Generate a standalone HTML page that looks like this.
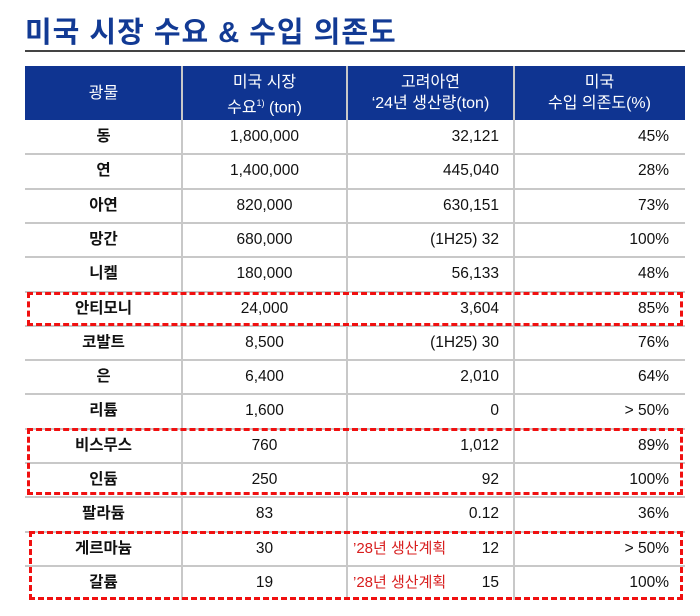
<!DOCTYPE html>
<html><head><meta charset="utf-8"><style>
body{margin:0;width:700px;height:616px;background:#fff;position:relative;overflow:hidden;font-family:"Liberation Sans","Noto Sans CJK KR",sans-serif;}
.a{position:absolute;}
.t{font-size:15.5px;color:#111;line-height:20px;white-space:nowrap;}
.h{color:#fff;font-size:16px;line-height:21px;text-align:center;}
</style></head><body>
<div class="a" style="left:25px;top:9px;font-size:29px;font-weight:bold;color:#123a94;letter-spacing:1px;">미국 시장 수요 &amp; 수입 의존도</div>
<div class="a" style="left:25px;top:50px;width:660px;height:2px;background:#444;"></div>
<div class="a" style="left:25px;top:66px;width:660px;height:54px;background:#0f3491;"></div>
<div class="a h" style="left:25px;top:83px;width:157px;">광물</div>
<div class="a h" style="left:182px;top:72px;width:165px;">미국 시장<br>수요<sup style="font-size:9px">1)</sup> (ton)</div>
<div class="a h" style="left:347px;top:72px;width:167px;">고려아연<br>‘24년 생산량(ton)</div>
<div class="a h" style="left:514px;top:72px;width:171px;">미국<br>수입 의존도(%)</div>
<div id="rows"></div>
<script>
const minerals=["동","연","아연","망간","니켈","안티모니","코발트","은","리튬","비스무스","인듐","팔라듐","게르마늄","갈륨"];
const demand=["1,800,000","1,400,000","820,000","680,000","180,000","24,000","8,500","6,400","1,600","760","250","83","30","19"];
const production=["32,121","445,040","630,151","(1H25) 32","56,133","3,604","(1H25) 30","2,010","0","1,012","92","0.12","12","15"];
const dependency=["45%","28%","73%","100%","48%","85%","76%","64%","> 50%","89%","100%","36%","> 50%","100%"];
const plans=["","","","","","","","","","","","","’28년 생산계획","’28년 생산계획"];
const R=document.getElementById('rows');
const top0=120,rh=34.3;
function add(css,txt,cls){const d=document.createElement('div');d.className='a '+(cls||'');d.style.cssText=css;if(txt!==undefined)d.textContent=txt;R.appendChild(d);return d;}
for(let i=0;i<minerals.length;i++){
 const y=top0+i*rh, ty=y+7;
 let d=add(`left:25px;top:${ty}px;width:157px;text-align:center;font-weight:bold;`,minerals[i],'t');
 
 
 d=add(`left:182px;top:${ty}px;width:165px;text-align:center;`,demand[i],'t');
 
 
 d=add(`left:347px;top:${ty}px;width:152px;text-align:right;`,production[i],'t');
 
 
 d=add(`left:514px;top:${ty}px;width:155px;text-align:right;`,dependency[i],'t');
 
 
 if(plans[i]){d=add(`left:353px;top:${ty}px;color:#d81e1e;font-size:15px;`,plans[i],'t');
 
 }
 if(i<minerals.length-1){d=add(`left:25px;top:${y+rh-1}px;width:660px;height:2px;background:#c8c8c8;`);
 
 }
}
const vx=[181,346,513];
for(const x of vx){const d=add(`left:${x}px;top:66px;width:2px;height:534px;background:#c8c8c8;`);
 
 }
const boxes=[[27,292,656,34],[27,428,656,67],[29,531,654,69]];
for(const b of boxes){const d=add(`left:${b[0]}px;top:${b[1]}px;width:${b[2]-6}px;height:${b[3]-6}px;border:3px dashed #f01010;`);
 
 }
</script>
</body></html>
